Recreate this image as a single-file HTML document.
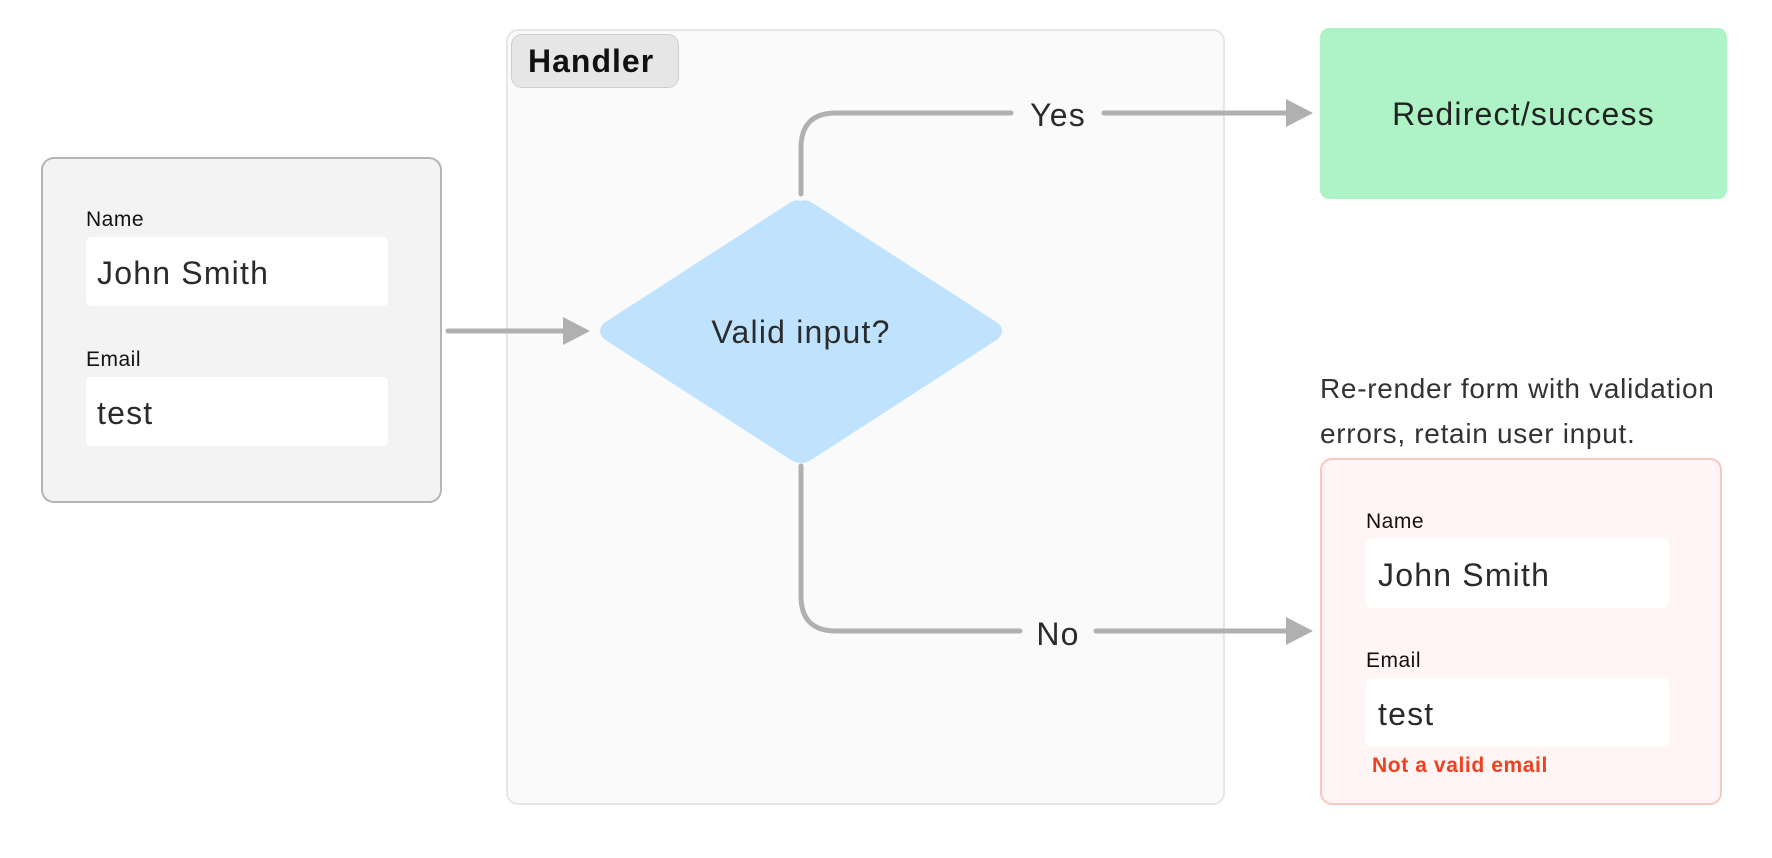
<!DOCTYPE html>
<html><head><meta charset="utf-8"><style>
body{margin:0;width:1772px;height:858px;background:#fff;position:relative;overflow:hidden;font-family:"Liberation Sans",sans-serif;color:#2b2b2b}
.a{position:absolute}
.inp{position:absolute;background:#fff;border-radius:5px}
.lbl{position:absolute;font-size:21px;line-height:20px;color:#111;letter-spacing:0.5px}
.val{position:absolute;font-size:32px;line-height:30px;color:#2b2b2b;letter-spacing:1.2px}
</style></head><body>
<div class="a" style="left:506px;top:29px;width:715px;height:772px;background:#fafafa;border:2px solid #e6e6e6;border-radius:12px"></div>
<div class="a" style="left:511px;top:34px;width:166px;height:52px;background:#e6e6e6;border:1px solid #cdcdcd;border-radius:11px"></div>
<div class="a" style="left:528px;top:44px;font-size:32px;line-height:34px;font-weight:bold;color:#111;letter-spacing:1px">Handler</div>

<div class="a" style="left:41px;top:157px;width:397px;height:342px;background:#f3f3f3;border:2px solid #b5b5b5;border-radius:13px"></div>
<div class="lbl" style="left:86px;top:210px">Name</div>
<div class="inp" style="left:86px;top:237px;width:302px;height:69px"></div>
<div class="val" style="left:97px;top:258px">John Smith</div>
<div class="lbl" style="left:86px;top:350px">Email</div>
<div class="inp" style="left:86px;top:377px;width:302px;height:69px"></div>
<div class="val" style="left:97px;top:398px">test</div>

<div class="a" style="left:1320px;top:28px;width:407px;height:171px;background:#aef3c6;border-radius:9px"></div>
<div class="a" style="left:1320px;top:97px;width:407px;text-align:center;font-size:32px;line-height:34px;color:#222;letter-spacing:1.2px">Redirect/success</div>

<div class="a" style="left:1320px;top:366px;font-size:28px;line-height:45px;color:#333;letter-spacing:0.7px;white-space:nowrap">Re-render form with validation<br>errors, retain user input.</div>
<div class="a" style="left:1320px;top:458px;width:398px;height:343px;background:#fff5f4;border:2px solid #fdc5bf;border-radius:12px"></div>
<div class="lbl" style="left:1366px;top:512px">Name</div>
<div class="inp" style="left:1366px;top:539px;width:303px;height:69px"></div>
<div class="val" style="left:1378px;top:560px">John Smith</div>
<div class="lbl" style="left:1366px;top:651px">Email</div>
<div class="inp" style="left:1366px;top:678px;width:303px;height:69px"></div>
<div class="val" style="left:1378px;top:699px">test</div>
<div class="a" style="left:1372px;top:755px;font-size:21px;line-height:22px;font-weight:bold;color:#f0401f;letter-spacing:0.6px">Not a valid email</div>

<svg class="a" style="left:0;top:0" width="1772" height="858">
<path d="M801 201 Q806 199 811 202 L998 323 Q1006 331 998 339 L811 460 Q801 466 791 460 L604 339 Q596 331 604 323 L791 202 Q796 199 801 201Z" fill="#bfe3fe"/>
<g stroke="#b0b0b0" stroke-width="5" fill="none" stroke-linecap="round">
<path d="M448 331 H566"/>
<path d="M801 194 V148 Q801 113 836 113 H1011"/>
<path d="M1104 113 H1290"/>
<path d="M801 466 V596 Q801 631 836 631 H1020"/>
<path d="M1096 631 H1290"/>
</g>
<g fill="#b0b0b0">
<path d="M563 317 L590 331 L563 345Z"/>
<path d="M1286 99 L1313 113 L1286 127Z"/>
<path d="M1286 617 L1313 631 L1286 645Z"/>
</g>
<g font-family="Liberation Sans, sans-serif" font-size="32" fill="#2b2b2b" text-anchor="middle" letter-spacing="1.2">
<text x="801" y="343">Valid input?</text>
<text x="1058" y="126">Yes</text>
<text x="1058" y="645">No</text>
</g>
</svg>
</body></html>
